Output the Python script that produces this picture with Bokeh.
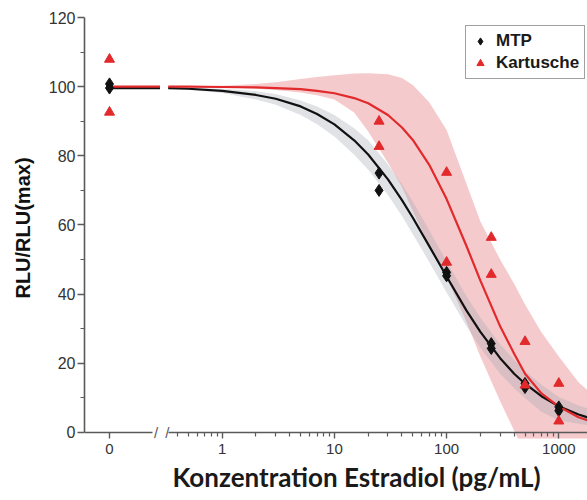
from bokeh.plotting import figure
from bokeh.layouts import row
from bokeh.models import (Range1d, FixedTicker, Label, Legend, LegendItem,
                          LinearAxis, LogAxis, Title)
from bokeh.embed import file_html
from bokeh.resources import INLINE

# ---------------- data ----------------
# raw measurements at concentration 0 (shown on the separate "0" segment)
zero_conc = [0, 0]
mtp_zero = [100.8, 99.6]
kart_zero = [107.9, 92.6]

# raw measurements (pg/mL)
mtp_conc = [25, 25, 100, 100, 250, 250, 500, 500, 1000, 1000]
mtp_rlu = [75.0, 70.0, 46.3, 45.3, 25.7, 24.3, 14.2, 13.0, 7.4, 6.3]
kart_conc = [25, 25, 100, 100, 250, 250, 500, 500, 1000, 1000]
kart_rlu = [90.0, 82.7, 75.2, 49.2, 56.4, 45.7, 26.3, 13.7, 14.2, 3.3]

# fitted curves and confidence bands
fit_conc = [0.33, 0.5, 1, 2, 3, 5, 7, 10, 15, 20, 30, 40, 50, 70, 100,
            150, 200, 300, 400, 500, 700, 1000, 1500, 2000]
mtp_fit = [99.6, 99.4, 98.8, 97.6, 96.5, 94.3, 92.1, 89.1, 84.5, 80.4, 73.2,
           67.2, 62.1, 53.9, 45.1, 35.3, 29.1, 21.5, 17.0, 14.1, 10.5, 7.6,
           5.2, 3.9]
mtp_lo = [99.4, 99.1, 98.2, 96.3, 94.8, 91.8, 89.1, 85.6, 80.3, 76.0, 68.7,
          62.6, 57.3, 49.3, 40.5, 30.8, 24.5, 17.0, 12.8, 10.0, 6.0, 3.5,
          2.5, 2.0]
mtp_hi = [99.8, 99.7, 99.4, 98.7, 97.9, 96.0, 94.3, 91.8, 88.0, 84.5, 77.5,
          71.8, 66.8, 58.5, 49.5, 39.5, 33.2, 25.5, 21.0, 17.8, 13.8, 10.3,
          7.8, 6.5]
kart_fit = [100.0, 100.0, 99.9, 99.8, 99.6, 99.3, 98.8, 98.1, 96.7, 95.2,
            91.8, 88.2, 84.6, 77.4, 67.5, 54.0, 43.9, 30.7, 22.8, 17.0, 11.3,
            7.5, 4.4, 3.0]
kart_lo = [100.0, 99.9, 99.8, 99.4, 99.0, 98.3, 97.5, 96.3, 92.5, 87.0, 78.0,
           71.0, 64.0, 54.0, 45.0, 32.0, 22.0, 9.0, 0.5, -6.0, -12.0, -16.0,
           -18.0, -19.0]
kart_hi = [100.0, 100.1, 100.3, 100.8, 101.3, 102.2, 102.8, 103.3, 103.8,
           103.9, 103.6, 102.5, 100.5, 95.5, 87.5, 72.0, 61.0, 50.0, 43.0,
           37.0, 29.0, 22.0, 14.5, 11.0]

y_ticks = [0, 20, 40, 60, 80, 100, 120]
y_minor = [10, 30, 50, 70, 90, 110]
x_ticks = [1, 10, 100, 1000]
x_tick_labels = ["1", "10", "100", "1000"]
x_minor = [0.4, 0.5, 0.6, 0.7, 0.8, 0.9, 2, 3, 4, 5, 6, 7, 8, 9,
           20, 30, 40, 50, 60, 70, 80, 90, 200, 300, 400, 500, 600, 700, 800, 900]

# ---------------- styling ----------------
BLACK = "#111111"
RED = "#e2292b"
AXIS = "#5a5a5a"
TICKTXT = "#333333"
FONT = "Liberation Sans"

H = 500
common = dict(height=H, output_backend="svg", toolbar_location=None,
              min_border_top=17, min_border_bottom=62, min_border_right=0,
              background_fill_color="white", border_fill_color="white",
              outline_line_color=None)

# frame reaches a little below 0 so that the axis break marks are not clipped
y_range = Range1d(-6 / 3.4583, 120)

# left segment (concentration 0)
p1 = figure(width=160, x_range=Range1d(-1, 2.04), y_range=y_range,
            min_border_left=84, **common)
# main log segment
p2 = figure(width=427, x_axis_type="log", x_range=Range1d(0.2818, 1802),
            y_range=y_range, y_axis_location=None, min_border_left=0, **common)

for p in (p1, p2):
    p.grid.visible = False
    for ax in p.axis:
        ax.axis_line_color = AXIS
        ax.axis_line_width = 1.6
        ax.major_tick_line_color = AXIS
        ax.major_tick_line_width = 1.4
        ax.minor_tick_line_color = AXIS
        ax.minor_tick_line_width = 1.2
        ax.major_label_text_color = TICKTXT
        ax.major_label_text_font = FONT
        ax.major_tick_in = 0
        ax.minor_tick_in = 0

# y axis
ya = p1.yaxis[0]
ya.ticker = FixedTicker(ticks=y_ticks, minor_ticks=y_minor)
ya.bounds = (y_ticks[0], y_ticks[-1])
ya.major_tick_out = 7
ya.minor_tick_out = 4
ya.major_label_standoff = 2
ya.major_label_text_font_size = "16px"
ya.axis_label = "RLU/RLU(max)"
ya.axis_label_text_font = FONT
ya.axis_label_text_font_style = "bold"
ya.axis_label_text_font_size = "20px"
ya.axis_label_text_color = "#111111"
ya.axis_label_standoff = 12

# x axis lines (drawn at y = 0, inside the frame)
zero_ticker = FixedTicker(ticks=zero_conc[:1], minor_ticks=[])
log_ticker = FixedTicker(ticks=x_ticks, minor_ticks=x_minor)

xa1 = p1.xaxis[0]
xa1.fixed_location = 0
xa1.bounds = (-1, 1.72)
xa1.ticker = zero_ticker
xa1.major_tick_out = 8
xa1.major_label_text_color = None

xa2 = p2.xaxis[0]
xa2.fixed_location = 0
xa2.bounds = (0.33, 1802)
xa2.ticker = log_ticker
xa2.major_tick_out = 8
xa2.minor_tick_out = 4
xa2.major_label_text_color = None

# x axis labels (separate axes below the frame, carrying only the texts)
def label_axis(ax):
    ax.axis_line_color = None
    ax.major_tick_line_color = None
    ax.minor_tick_line_color = None
    ax.major_tick_out = 0
    ax.minor_tick_out = 0
    ax.major_tick_in = 0
    ax.minor_tick_in = 0
    ax.major_label_standoff = 5
    ax.major_label_text_font = FONT
    ax.major_label_text_font_size = "15px"
    ax.major_label_text_color = TICKTXT
    return ax

lab1 = label_axis(LinearAxis(ticker=zero_ticker))
p1.add_layout(lab1, "below")

lab2 = label_axis(LogAxis(ticker=log_ticker))
lab2.major_label_overrides = {t: l for t, l in zip(x_ticks, x_tick_labels)}
p2.add_layout(lab2, "below")

x_title = Title(text="Konzentration Estradiol (pg/mL)", align="left",
                offset=12, text_font="Lato", text_font_style="bold",
                text_font_size="26px", text_color="#1a1a1a", standoff=5)
p2.add_layout(x_title, "below")

# axis break marks
p1.add_layout(Label(x=1.86, y=0, text="/", text_align="center",
                    text_baseline="middle", text_font_size="15px",
                    text_color=AXIS, text_font=FONT))
p2.add_layout(Label(x=0.325, y=0, text="/", text_align="center",
                    text_baseline="middle", text_font_size="15px",
                    text_color=AXIS, text_font=FONT))

# ---- left part: zero points and flat top of the curves ----
p1.ray(x=zero_conc[:1], y=[mtp_fit[0]], length=0, angle=0,
       line_color=BLACK, line_width=2.2)
p1.ray(x=zero_conc[:1], y=[kart_fit[0]], length=0, angle=0,
       line_color=RED, line_width=2.2)
p1.scatter(zero_conc, mtp_zero, marker="diamond", size=12,
           fill_color=BLACK, line_color=BLACK)
p1.scatter(zero_conc, kart_zero, marker="triangle", size=10,
           fill_color=RED, line_color=RED)

# ---- log part ----
p2.varea(x=fit_conc, y1=kart_lo, y2=kart_hi, fill_color="#ed9ea2",
         fill_alpha=0.55)
p2.varea(x=fit_conc, y1=mtp_lo, y2=mtp_hi, fill_color="#a0a6b4",
         fill_alpha=0.33)
p2.line(fit_conc, mtp_fit, line_color=BLACK, line_width=2.2)
p2.line(fit_conc, kart_fit, line_color=RED, line_width=2.2)
r_mtp = p2.scatter(mtp_conc, mtp_rlu, marker="diamond", size=12,
                   fill_color=BLACK, line_color=BLACK)
r_kart = p2.scatter(kart_conc, kart_rlu, marker="triangle", size=10,
                    fill_color=RED, line_color=RED)

legend = Legend(items=[LegendItem(label="MTP", renderers=[r_mtp]),
                       LegendItem(label="Kartusche", renderers=[r_kart])],
                location=(305, 359))
legend.margin = 0
legend.padding = 5
legend.spacing = 2
legend.glyph_width = 18
legend.glyph_height = 20
legend.label_height = 20
legend.label_standoff = 7
legend.label_text_font = FONT
legend.label_text_font_style = "bold"
legend.label_text_font_size = "17px"
legend.label_text_color = "#1a1a1a"
legend.border_line_color = "#444444"
legend.border_line_width = 1.2
legend.background_fill_color = "white"
legend.background_fill_alpha = 1
p2.add_layout(legend)

layout = row(p1, p2, spacing=0)
open("out.html", "w").write(file_html(layout, INLINE))
